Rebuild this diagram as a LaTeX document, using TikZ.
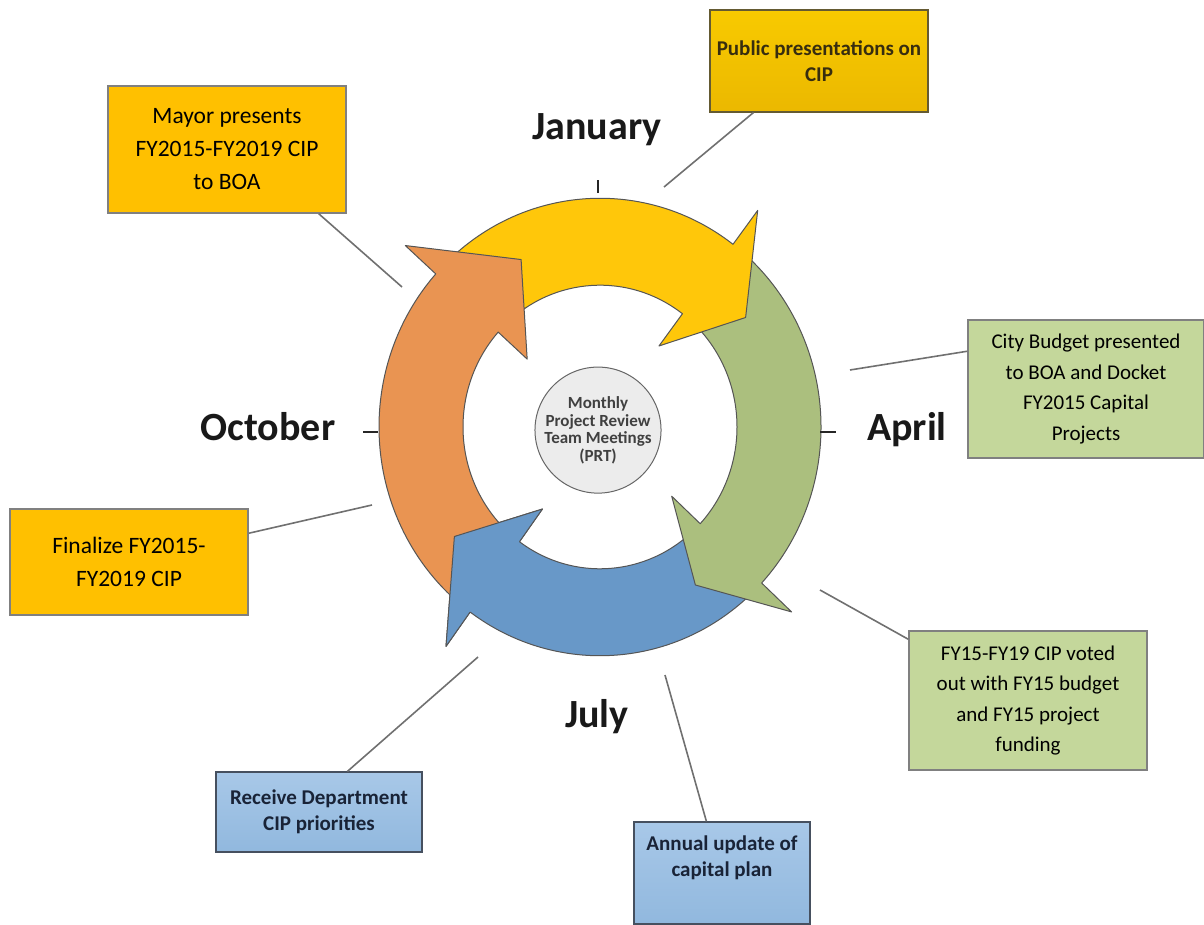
\documentclass[tikz,border=0pt]{standalone}
\usepackage{fontspec}
\setmainfont{Carlito}

\definecolor{yellowArrow}{RGB}{255,199,10}
\definecolor{greenArrow}{RGB}{171,191,126}
\definecolor{blueArrow}{RGB}{104,152,200}
\definecolor{orangeArrow}{RGB}{233,148,82}
\definecolor{ringGray}{RGB}{85,85,85}
\definecolor{goldFill}{RGB}{255,192,0}
\definecolor{greenFill}{RGB}{196,215,155}
\definecolor{boxGray}{RGB}{128,128,128}
\definecolor{calloutGray}{RGB}{112,112,112}
\definecolor{hubFill}{RGB}{236,236,236}

\newcommand{\ringout}{221}
\newcommand{\ringin}{137}
\newcommand{\barbout}{262}
\newcommand{\barbin}{98}
\newcommand{\tipr}{180}

% fill, tail angle, head base angle, tip angle
\newcommand{\ringarrow}[4]{%
  \draw[ringline, fill=#1] (#2:\ringout) arc[start angle=#2, end angle=#3, radius=\ringout]
    -- (#3:\barbout) -- (#4:\tipr) -- (#3:\barbin) -- (#3:\ringin)
    arc[start angle=#3, end angle=#2, radius=\ringin] -- cycle;}

\tikzset{
  ringline/.style={draw=ringGray, line width=1pt, line join=round},
  tickline/.style={draw=black!85, line width=1.6pt},
  callout/.style={draw=calloutGray, line width=1.6pt},
  month/.style={font=\fontsize{40}{48}\selectfont\bfseries, text=black!90},
  plainbox/.style={draw=boxGray, line width=1.5pt, inner sep=0pt, align=center},
  goldbox/.style={plainbox, fill=goldFill, font=\fontsize{23.5}{33}\selectfont},
  greenbox/.style={plainbox, fill=greenFill, font=\fontsize{21}{30.5}\selectfont},
  boldtext/.style={align=center, font=\fontsize{21}{26}\selectfont\bfseries},
  pubbox/.style={draw={rgb,255:red,100;green,90;blue,50}, line width=1.2pt, inner sep=0pt,
    top color={rgb,255:red,248;green,202;blue,0}, bottom color={rgb,255:red,235;green,184;blue,0},
    boldtext, text={rgb,255:red,55;green,45;blue,15}},
  bluebox/.style={draw={rgb,255:red,70;green,80;blue,95}, line width=1.2pt, inner sep=0pt,
    top color={rgb,255:red,168;green,200;blue,232}, bottom color={rgb,255:red,145;green,184;blue,222}},
  bluetext/.style={boldtext, text={rgb,255:red,25;green,35;blue,55}},
  hub/.style={circle, draw=black!60, line width=1pt, fill=hubFill, minimum size=118pt, inner sep=0pt,
    align=center, font=\fontsize{17}{17.5}\selectfont\bfseries, text=black!75}
}

\begin{document}
\begin{tikzpicture}[x=1pt,y=1pt]
  \useasboundingbox (0,0) rectangle (1204,924);

  % the cycle
  \begin{scope}[shift={(600,497)}, yscale=1.035]
    \ringarrow{blueArrow}{-46}{-126}{-144}
    \ringarrow{greenArrow}{48}{-43}{-58}
    \ringarrow{yellowArrow}{134}{53}{36}
    \ringarrow{orangeArrow}{-130}{-222}{-244}
    % blue head lies over the orange tail
    \fill[blueArrow] (-126:\barbout) -- (-144:\tipr) -- (-126:\barbin) -- cycle;
    \draw[ringline] (-126:\ringout) -- (-126:\barbout) -- (-144:\tipr) -- (-126:\barbin) -- (-126:\ringin);
    \node[hub] (prt) at (-2,-3) {Monthly\\Project Review\\Team Meetings\\(PRT)};
    \draw[tickline] (-2,226) -- (-2,239);
    \draw[tickline] (-237,-5) -- (-222,-5);
    \draw[tickline] (220,-5) -- (236,-5);
  \end{scope}

  \node[month] (jan) at (597,794) {January};
  \node[month] (oct) at (268,497) {October};
  \node[month] (apr) at (907,494) {April};
  \node[month] (jul) at (597,207) {July};

  % boxes
  \node[pubbox, minimum width=218pt, minimum height=102pt] (pub) at (819,863) {Public presentations on\\CIP};
  \node[goldbox, minimum width=238pt, minimum height=127pt] (mayor) at (227,774.5) {Mayor presents\\FY2015-FY2019 CIP\\to BOA};
  \node[greenbox, minimum width=236pt, minimum height=138pt] (city) at (1086,535) {City Budget presented\\to BOA and Docket\\FY2015 Capital\\Projects};
  \node[goldbox, minimum width=238pt, minimum height=106pt] (final) at (129,362) {Finalize FY2015-\\FY2019 CIP};
  \node[greenbox, minimum width=238pt, minimum height=139pt] (vote) at (1028,223.5) {FY15-FY19 CIP voted\\out with FY15 budget\\and FY15 project\\funding};
  \node[bluebox, bluetext, minimum width=206pt, minimum height=80pt] (recv) at (319,112) {Receive Department\\CIP priorities};
  \node[bluebox, minimum width=176pt, minimum height=102pt] (annual) at (722,51) {};
  \node[bluetext, anchor=north] (annualtext) at ([yshift=-11pt]annual.north) {Annual update of\\capital plan};

  % callouts
  \coordinate (pubend) at (664,737);
  \coordinate (mayorend) at (402,637);
  \coordinate (cityend) at (850,554);
  \coordinate (finalend) at (372,419);
  \coordinate (voteend) at (820,334);
  \coordinate (recvend) at (478,267);
  \coordinate (annualend) at (665,249);
  \draw[callout] ([xshift=44pt]pub.south west) -- (pubend);
  \draw[callout] ([xshift=-28pt]mayor.south east) -- (mayorend);
  \draw[callout] ([yshift=-32pt]city.north west) -- (cityend);
  \draw[callout] ([yshift=-25pt]final.north east) -- (finalend);
  \draw[callout] ([yshift=-9pt]vote.north west) -- (voteend);
  \draw[callout] ([xshift=132pt]recv.north west) -- (recvend);
  \draw[callout] ([xshift=73pt]annual.north west) -- (annualend);
\end{tikzpicture}
\end{document}
